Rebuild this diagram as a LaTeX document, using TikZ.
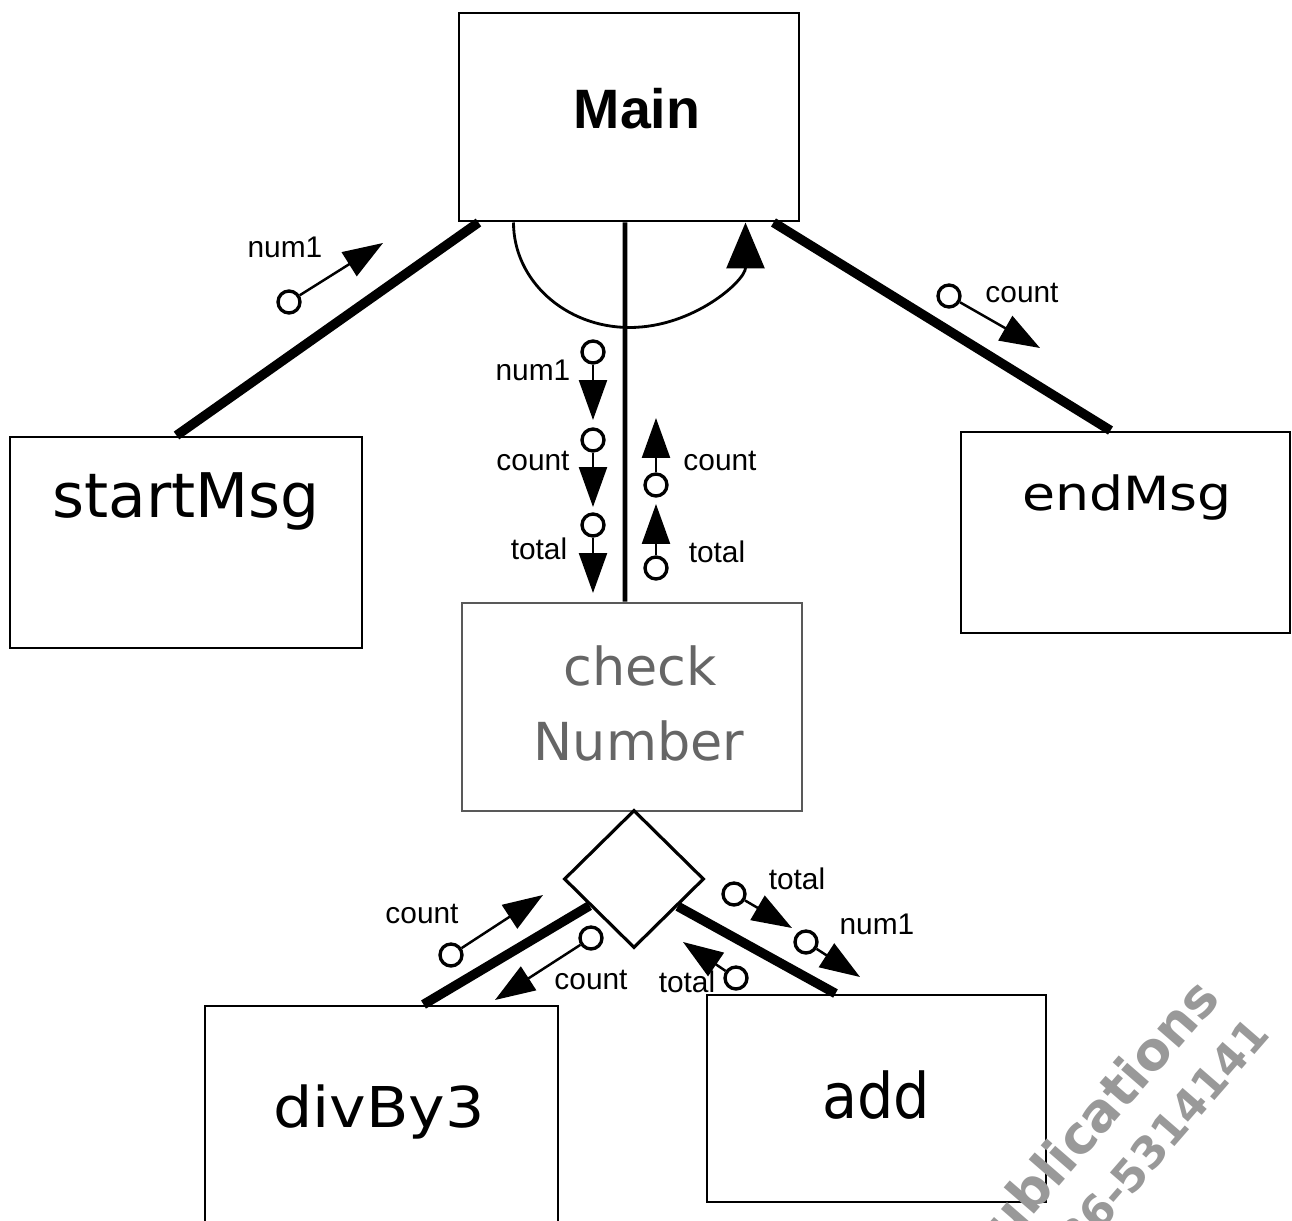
\documentclass[tikz,border=0pt]{standalone}
\usepackage{fontspec}
\setmainfont{Liberation Sans}
\newfontfamily\dv{DejaVu Sans}
\newfontfamily\lib{Liberation Sans}
\usetikzlibrary{arrows.meta,shapes.geometric}
\begin{document}
\begin{tikzpicture}[
  box/.style={draw, rectangle, line width=0.85pt, inner sep=0pt},
  conn/.style={line width=2.7pt},
  vconn/.style={line width=1.4pt},
  cpl/.style={circle, draw, line width=0.95pt, minimum size=0.22cm, inner sep=0pt, fill=white},
  cplarrow/.style={line width=0.7pt, -{Triangle[length=0.40cm,width=0.28cm]}},
  lbl/.style={font=\lib\fontsize{8.5}{10}\selectfont, inner sep=0pt},
  iterarc/.style={line width=0.8pt, -{Triangle[length=0.46cm,width=0.38cm]}},
  wm/.style={font=\dv\bfseries\fontsize{15}{18}\selectfont, text=black!40, inner sep=0pt, rotate=49, anchor=base east}
]
\useasboundingbox (0,0) rectangle (12.92,-12.21);
\fill[white] (0,0) rectangle (12.92,-12.21);

% boxes
\node[box, minimum width=3.40cm, minimum height=2.08cm] (main) at (6.29,-1.17) {};
\node[font=\lib\bfseries\fontsize{15.8}{19}\selectfont, inner sep=0pt, anchor=base] (mainT) at (6.37,-1.28) {Main};

\node[box, minimum width=3.52cm, minimum height=2.11cm] (start) at (1.86,-5.425) {};
\node[font=\dv\fontsize{17.5}{20}\selectfont, inner sep=0pt, anchor=base] (startT) at (1.86,-5.18) {startMsg};

\node[box, minimum width=3.29cm, minimum height=2.01cm] (endm) at (11.255,-5.325) {};
\node[font=\dv\fontsize{13.4}{16}\selectfont, inner sep=0pt, anchor=base, xscale=1.14] (endT) at (11.27,-5.10) {endMsg};

\node[box, draw=black!65, minimum width=3.40cm, minimum height=2.08cm] (check) at (6.32,-7.07) {};
\node[font=\dv\fontsize{14.9}{18}\selectfont, inner sep=0pt, anchor=base, text=black!60] (checkT1) at (6.40,-6.85) {check};
\node[font=\dv\fontsize{14.9}{18}\selectfont, inner sep=0pt, anchor=base, text=black!60] (checkT2) at (6.39,-7.60) {Number};

\node[draw, diamond, line width=0.9pt, minimum width=1.40cm, minimum height=1.38cm, inner sep=0pt] (dia) at (6.34,-8.79) {};

\node[box, minimum width=3.53cm, minimum height=2.19cm] (div) at (3.815,-11.155) {};
\node[font=\dv\fontsize{16}{19}\selectfont, inner sep=0pt, anchor=base, xscale=1.1] (divT) at (3.79,-11.27) {divBy3};

\node[box, minimum width=3.39cm, minimum height=2.07cm] (add) at (8.765,-10.985) {};
\node[font=\dv\fontsize{17.9}{21}\selectfont, inner sep=0pt, anchor=base, xscale=0.91] (addT) at (8.76,-11.18) {add};

% connectors
\draw[conn] ([xshift=0.21cm]main.south west) -- ([xshift=1.68cm]start.north west);
\draw[conn] ([xshift=-0.27cm]main.south east) -- ([xshift=1.51cm]endm.north west);
\draw[vconn] ([xshift=-0.04cm]main.south) -- ([xshift=-0.07cm]check.north);
\draw[conn] (dia.211) -- ([xshift=2.20cm]div.north west);
\draw[conn] (dia.328) -- ([xshift=1.30cm]add.north west);

% iteration arc
\draw[iterarc] ([xshift=0.56cm]main.south west) arc[start angle=180, end angle=360, x radius=1.16cm, y radius=1.05cm];

% couples
\foreach \n/\cx/\cy/\tx/\ty/\lab/\lx/\ly in {
  1/2.89/-3.02/3.83/-2.43/num1/2.85/-2.47,
  2/9.49/-2.96/10.40/-3.48/count/10.22/-2.93,
  3/5.93/-3.52/5.93/-4.20/num1/5.33/-3.70,
  4/5.93/-4.40/5.93/-5.07/count/5.33/-4.61,
  5/5.93/-5.25/5.93/-5.93/total/5.39/-5.49,
  6/6.56/-4.85/6.56/-4.18/count/7.20/-4.61,
  7/6.56/-5.68/6.56/-5.04/total/7.17/-5.52,
  8/4.51/-9.55/5.43/-8.95/count/4.22/-9.14,
  9/5.91/-9.38/4.95/-10.00/count/5.91/-9.80,
  10/7.34/-8.94/7.92/-9.28/total/7.97/-8.79,
  11/8.06/-9.42/8.60/-9.77/num1/8.77/-9.24,
  12/7.36/-9.78/6.83/-9.42/total/6.87/-9.82}{
  \node[cpl] (c\n) at (\cx,\cy) {};
  \coordinate (t\n) at (\tx,\ty);
  \draw[cplarrow] (c\n) -- (t\n);
  \node[lbl] (l\n) at (\lx,\ly) {\lab};
}

% watermark
\begin{scope}
  \clip (0,0) rectangle (12.92,-12.21);
  \node[wm] (wm1) at (12.22,-9.99) {Publications};
  \node[wm, font=\dv\bfseries\fontsize{12.5}{15}\selectfont] (wm2) at (12.72,-10.35) {0336-5314141};
\end{scope}
\end{tikzpicture}
\end{document}
